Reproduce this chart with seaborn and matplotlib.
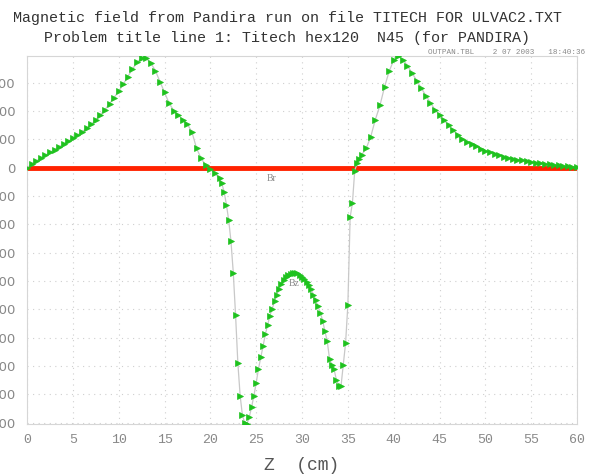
import numpy as np
import pandas as pd
import matplotlib
matplotlib.use("Agg")
import matplotlib.pyplot as plt
import seaborn as sns

# z positions (cm)
z_left = [0.0, 0.5, 1.0, 1.5, 2.0, 2.5, 3.0, 3.5, 4.0, 4.5, 5.0, 5.5, 6.0, 6.5, 7.0,
          7.5, 8.0, 8.5, 9.0, 9.5, 10.0, 10.5, 11.0, 11.5, 12.0, 12.5, 13.0, 13.5,
          14.0, 14.5, 15.0, 15.5, 16.0, 16.5, 17.0, 17.5, 18.0, 18.5, 19.0, 19.5,
          20.0, 20.5]
bz_left = [0.0, 0.12, 0.24, 0.33, 0.44, 0.54, 0.64, 0.74, 0.84, 0.94, 1.04, 1.15,
           1.27, 1.39, 1.53, 1.69, 1.87, 2.05, 2.26, 2.48, 2.70, 2.95, 3.22, 3.48,
           3.72, 3.88, 3.86, 3.70, 3.43, 3.04, 2.66, 2.28, 2.02, 1.86, 1.70, 1.54,
           1.25, 0.68, 0.33, 0.08, -0.06, -0.20]

z_mid = [21.0, 21.25, 21.5, 21.75, 22.0, 22.25, 22.5, 22.75, 23.0, 23.25, 23.5, 23.75,
         24.0, 24.25, 24.5, 24.75, 25.0, 25.25, 25.5, 25.75, 26.0, 26.25, 26.5, 26.75,
         27.0, 27.25, 27.5, 27.75, 28.0, 28.25, 28.5, 28.75, 29.0, 29.25, 29.5, 29.75,
         30.0, 30.25, 30.5, 30.75, 31.0, 31.25, 31.5, 31.75, 32.0, 32.25, 32.5, 32.75,
         33.0, 33.25, 33.5, 33.75, 34.0, 34.25, 34.5, 34.75, 35.0, 35.25, 35.5, 35.75,
         36.0, 36.25, 36.5]
bz_mid = [-0.38, -0.55, -0.85, -1.30, -1.85, -2.60, -3.70, -5.20, -6.90, -8.05, -8.75,
          -9.00, -9.05, -8.80, -8.45, -8.05, -7.60, -7.10, -6.70, -6.30, -5.88, -5.55,
          -5.22, -4.98, -4.72, -4.50, -4.28, -4.10, -3.97, -3.87, -3.79, -3.74, -3.71,
          -3.71, -3.73, -3.78, -3.85, -3.93, -4.03, -4.14, -4.30, -4.48, -4.68, -4.90,
          -5.12, -5.40, -5.78, -6.12, -6.75, -6.95, -7.12, -7.50, -7.70, -7.72, -6.96,
          -6.20, -4.85, -1.75, -1.24, -0.10, 0.15, 0.30, 0.45]

z_right = [37.0, 37.5, 38.0, 38.5, 39.0, 39.5, 40.0, 40.5, 41.0, 41.5, 42.0, 42.5,
           43.0, 43.5, 44.0, 44.5, 45.0, 45.5, 46.0, 46.5, 47.0, 47.5, 48.0, 48.5,
           49.0, 49.5, 50.0, 50.5, 51.0, 51.5, 52.0, 52.5, 53.0, 53.5, 54.0, 54.5,
           55.0, 55.5, 56.0, 56.5, 57.0, 57.5, 58.0, 58.5, 59.0, 59.5, 60.0]
bz_right = [0.68, 1.10, 1.70, 2.20, 2.85, 3.40, 3.80, 3.94, 3.82, 3.60, 3.35, 3.08,
            2.82, 2.55, 2.30, 2.05, 1.86, 1.67, 1.50, 1.32, 1.15, 1.02, 0.92, 0.83,
            0.75, 0.67, 0.60, 0.54, 0.49, 0.44, 0.39, 0.35, 0.32, 0.29, 0.26, 0.23,
            0.20, 0.18, 0.16, 0.14, 0.12, 0.10, 0.09, 0.07, 0.05, 0.03, 0.02]

z = z_left + z_mid + z_right
bz = bz_left + bz_mid + bz_right          # thousands of gauss
br = [0.0 for _ in z]

x_ticks = [0, 5, 10, 15, 20, 25, 30, 35, 40, 45, 50, 55, 60]
y_ticks = [-9, -8, -7, -6, -5, -4, -3, -2, -1, 0, 1, 2, 3]
y_tick_labels = [str(int(v * 1000)) for v in y_ticks]

df = pd.DataFrame({"z": z, "Bz": bz, "Br": br})

sns.set_style("white")
plt.rcParams["font.family"] = ["DejaVu Sans"]

fig = plt.figure(figsize=(5.9, 4.74), dpi=100)
ax = fig.add_axes([0.0458, 0.1055, 0.9322, 0.776])

sns.lineplot(data=df, x="z", y="Br", ax=ax, color="#ff2200", lw=3.5, zorder=2)
sns.lineplot(data=df, x="z", y="Bz", ax=ax, color="#c8c8c8", lw=0.9, zorder=3,
             marker=">", markersize=4.5, markerfacecolor="#1ec21e",
             markeredgecolor="#1ec21e", markeredgewidth=0.5)

ax.set_xlim(0, 60)
ax.set_ylim(-9.05, 3.94)
ax.set_xticks(x_ticks)
ax.set_xticklabels([str(t) for t in x_ticks])
ax.set_yticks(y_ticks)
ax.set_yticklabels(y_tick_labels)

ax.grid(True, color="#cfcfcf", linestyle=(0, (1, 4)), lw=0.8)
for s in ax.spines.values():
    s.set_color("#d6d6d6")
    s.set_linewidth(0.8)
ax.tick_params(axis="both", direction="in", length=4, color="#bbbbbb",
               labelcolor="#888888", labelsize=9.5)
ax.tick_params(axis="y", pad=8)
ax.tick_params(axis="x", pad=7)
for lbl in ax.get_xticklabels():
    lbl.set_family("Liberation Mono")

ax.set_xlabel("Z  (cm)", family="Liberation Mono", fontsize=13, color="#555555",
              labelpad=8)
ax.set_ylabel("")

ax.text(26.7, -0.38, "Br", fontsize=7, color="#888888", family="Liberation Serif",
        ha="center", va="center")
ax.text(29.1, -4.1, "Bz", fontsize=7, color="#888888", family="Liberation Serif",
        ha="center", va="center")

fig.text(0.487, 0.962, "Magnetic field from Pandira run on file TITECH FOR ULVAC2.TXT",
         ha="center", va="center", family="Liberation Mono", fontsize=10.8,
         color="#333333")
fig.text(0.487, 0.920, "Problem title line 1: Titech hex120  N45 (for PANDIRA)",
         ha="center", va="center", family="Liberation Mono", fontsize=10.8,
         color="#333333")
fig.text(0.992, 0.89, "OUTPAN.TBL    2 07 2003   18:40:36", ha="right", va="center",
         family="Liberation Mono", fontsize=5.5, color="#888888")

fig.savefig("out.png", dpi=100)
